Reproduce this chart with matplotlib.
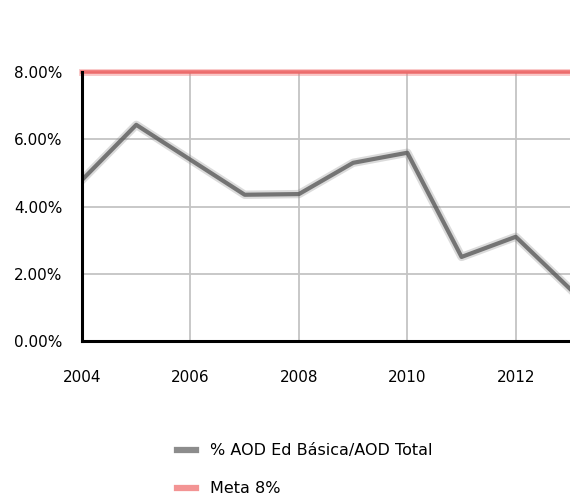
import matplotlib
matplotlib.use("Agg")
import matplotlib.pyplot as plt
from matplotlib.lines import Line2D
from matplotlib.ticker import FuncFormatter

years = [2004, 2005, 2006, 2007, 2008, 2009, 2010, 2011, 2012, 2013]
share_basic = [4.79, 6.43, 5.39, 4.35, 4.37, 5.30, 5.60, 2.50, 3.10, 1.55]
target = 8.0
x_ticks = [2004, 2006, 2008, 2010, 2012]
y_ticks = [0, 2, 4, 6, 8]
series_label = "% AOD Ed Básica/AOD Total"
target_label = "Meta 8%"

plt.rcParams['font.family'] = ['DejaVu Sans']

fig = plt.figure(figsize=(5.7, 4.98), dpi=100)
ax = fig.add_axes([0.1439, 0.3153, 0.8561, 0.540])

ax.set_xlim(2004, 2013)
ax.set_ylim(0, 8)
ax.set_xticks(x_ticks)
ax.set_yticks(y_ticks)
ax.yaxis.set_major_formatter(FuncFormatter(lambda v, p: f"{v:.2f}%"))
ax.grid(True, color="#c4c4c4", linewidth=1.3)
ax.set_axisbelow(True)

for s in ("top", "right"):
    ax.spines[s].set_visible(False)
for s in ("left", "bottom"):
    ax.spines[s].set_linewidth(2.2)
    ax.spines[s].set_color("black")
    ax.spines[s].set_zorder(5)

ax.tick_params(length=0, labelsize=11)
ax.tick_params(axis="x", pad=21)
ax.tick_params(axis="y", pad=14)

# soft-edged series line: wide faint halo under a darker core
ax.plot(years, share_basic, color="#888888", linewidth=6, alpha=0.3,
        solid_joinstyle="round", zorder=3)
ax.plot(years, share_basic, color="#5a5a5a", linewidth=3.0, alpha=0.8,
        solid_joinstyle="round", zorder=4)

ax.axhline(target, color="#f07a7a", linewidth=5, alpha=0.4, clip_on=False, zorder=3)
ax.axhline(target, color="#ee6262", linewidth=2.6, alpha=0.85, clip_on=False, zorder=4)

handles = [
    Line2D([], [], color="#666666", linewidth=4.5, alpha=0.75),
    Line2D([], [], color="#f07070", linewidth=4.5, alpha=0.75),
]
fig.legend(handles, [series_label, target_label], loc="upper left",
           bbox_to_anchor=(0.285, 0.139), frameon=False, fontsize=11.5,
           handlelength=1.2, handletextpad=0.9, labelspacing=1.45,
           bbox_transform=fig.transFigure)

fig.savefig("out.png", dpi=100)
